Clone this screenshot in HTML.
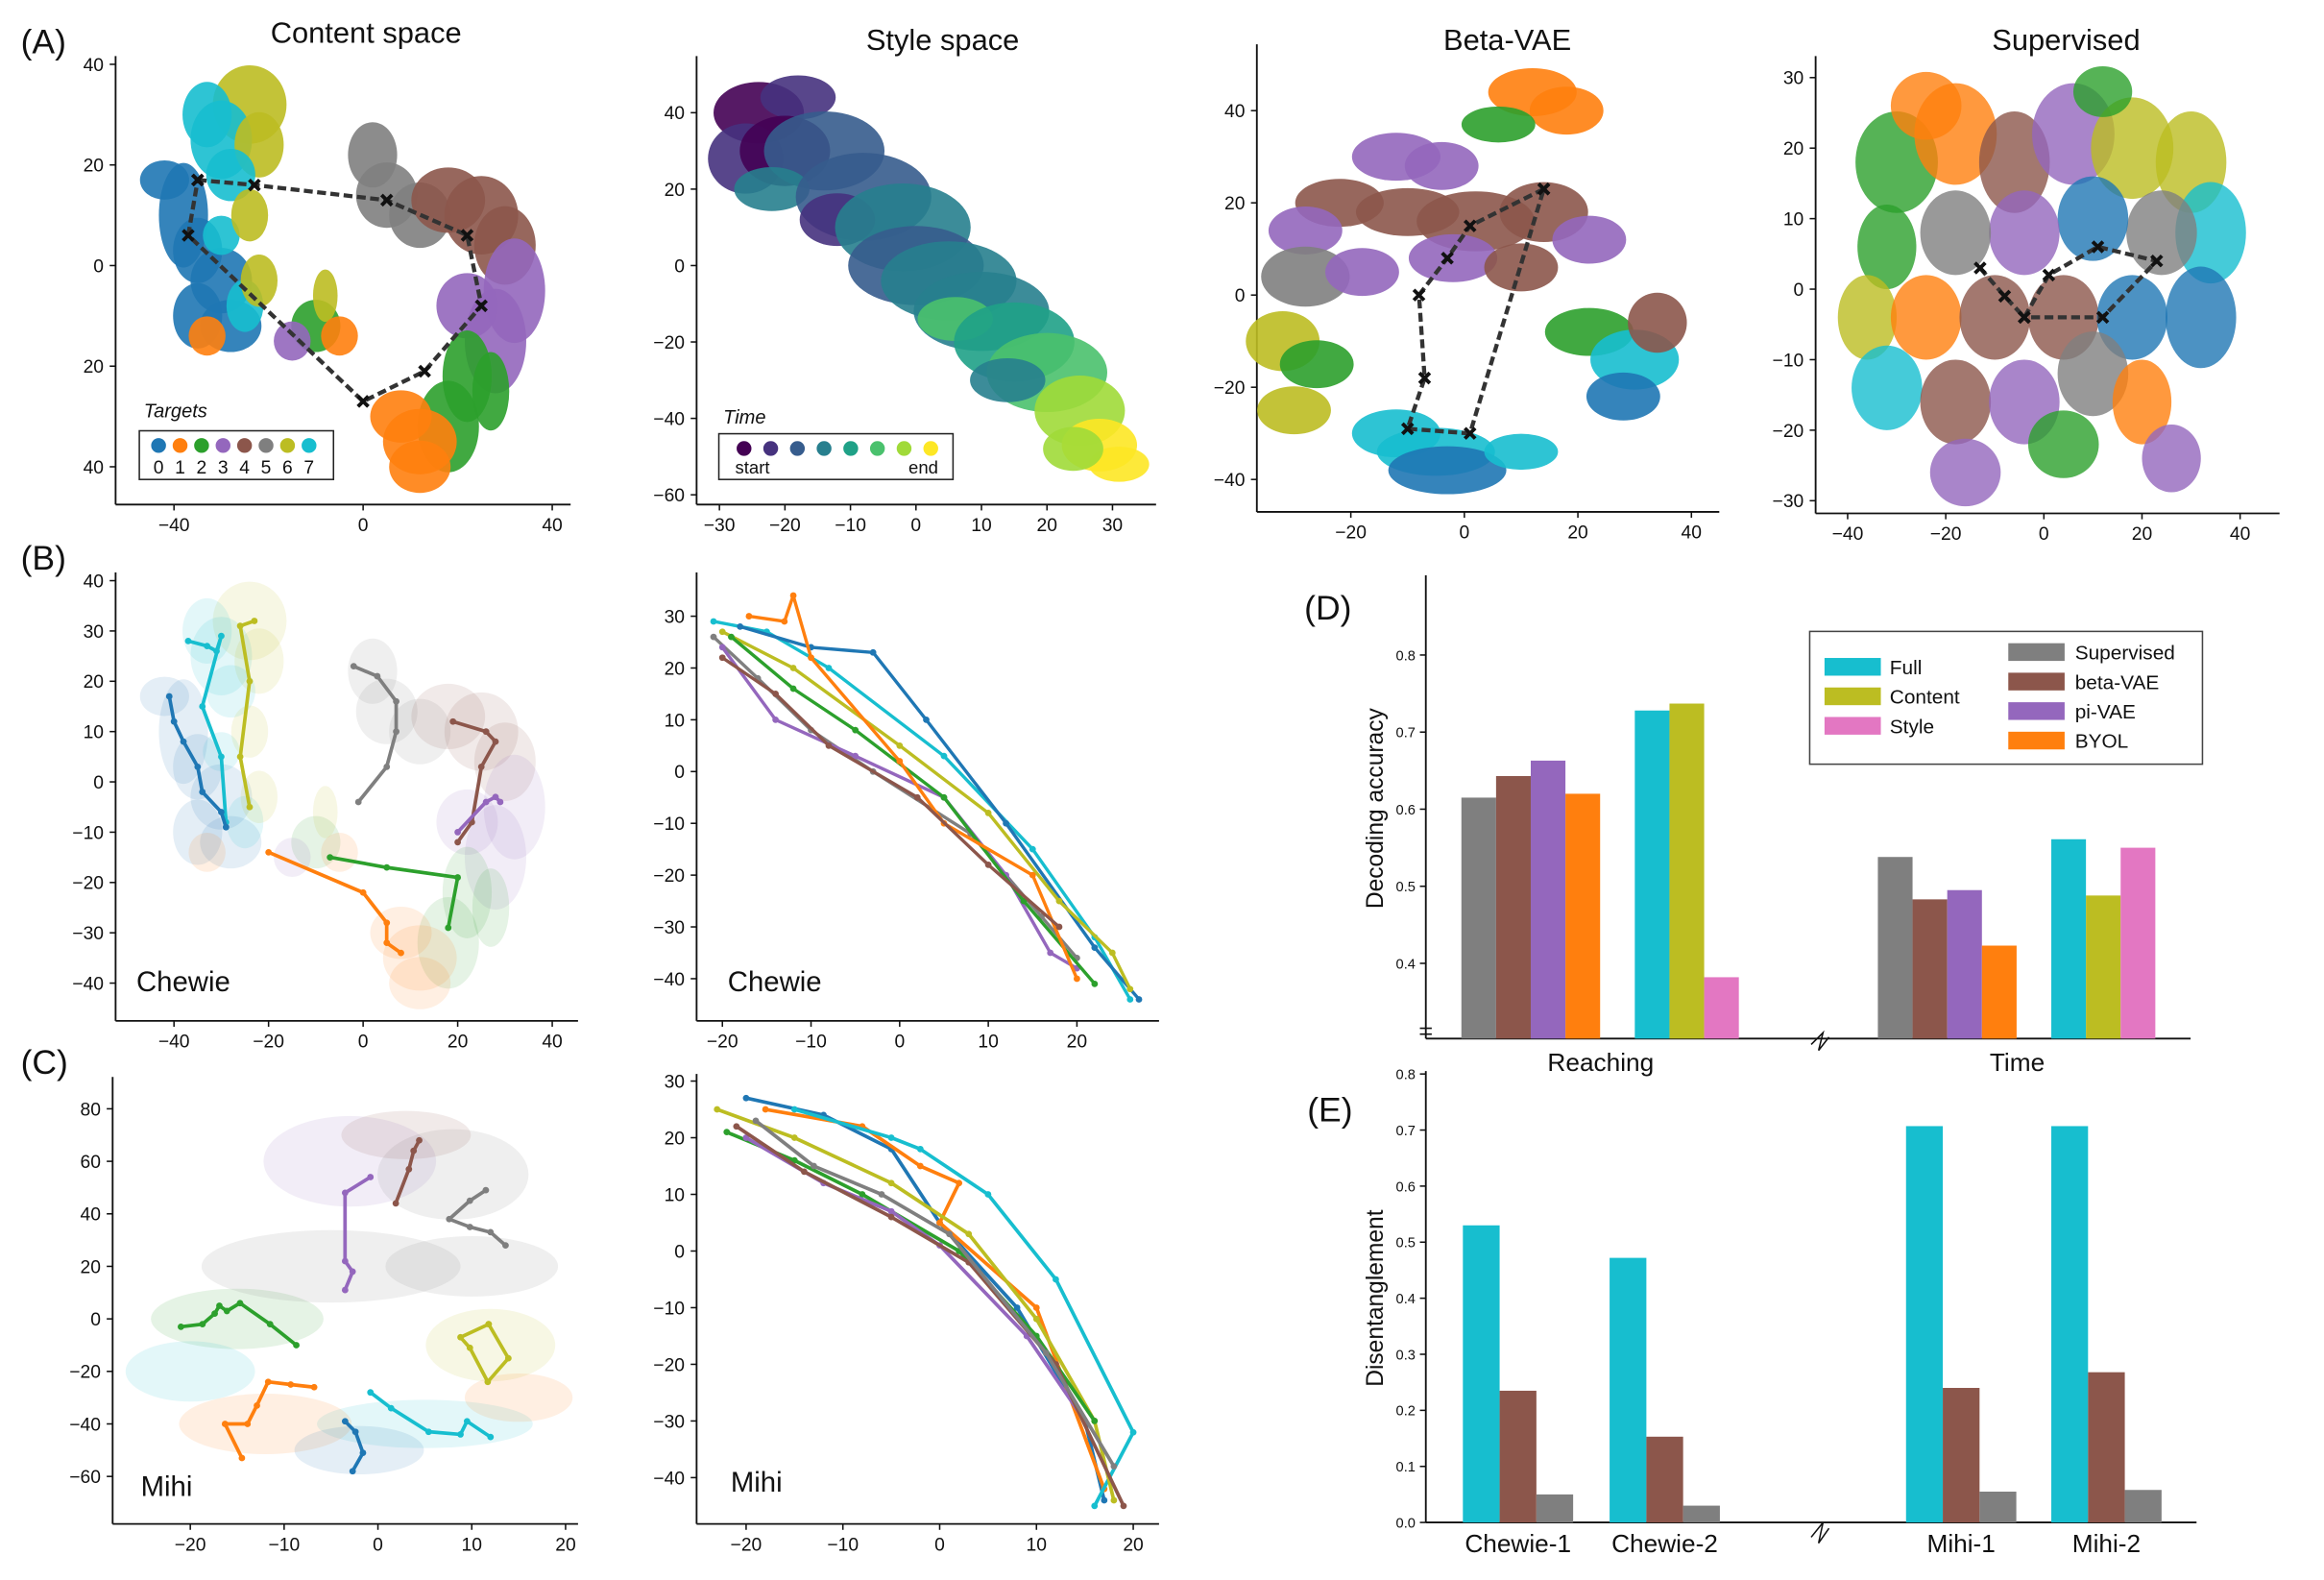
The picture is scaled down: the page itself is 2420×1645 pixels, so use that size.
<!DOCTYPE html>
<html><head><meta charset="utf-8">
<style>
html,body{margin:0;padding:0;background:#fff;}
svg{display:block;font-family:"Liberation Sans","DejaVu Sans",sans-serif;}
</style></head>
<body>
<svg id="fig" width="2420" height="1645" viewBox="0 0 1568 1071" preserveAspectRatio="none" xmlns="http://www.w3.org/2000/svg"></svg>
<script>
// ---------- DATA ----------
const targetColors = ["#1f77b4","#ff7f0e","#2ca02c","#9467bd","#8c564b","#7f7f7f","#bcbd22","#17becf"];
const timeColors = ["#440154","#46327e","#365c8d","#277f8e","#1fa187","#4ac16d","#a0da39","#fde725"];
const targetLabels = ["0","1","2","3","4","5","6","7"];

// clusters: [x, y, rx, ry, colorIndex]
const contentClusters = [
 [-24,32,6,6,6],[-33,30,4,5,7],[-30,25,5,6,7],[-22,24,4,5,6],[-28,18,4,4,7],
 [-42,17,4,3,0],[-38,10,4,8,0],[-35,3,4,5,0],[-30,-3,5,5,0],[-35,-10,4,5,0],[-28,-12,5,4,0],[-33,-14,3,3,1],[-25,-8,3,4,7],[-22,-3,3,4,6],[-30,6,3,3,7],[-24,10,3,4,6],
 [2,22,4,5,5],[5,14,5,5,5],[12,10,5,5,5],[18,13,6,5,4],[25,10,6,6,4],[30,4,5,6,4],[32,-5,5,8,3],[28,-15,5,8,3],[22,-8,5,5,3],
 [22,-22,4,7,2],[27,-25,3,6,2],[18,-32,5,7,2],[12,-35,6,5,1],[8,-30,5,4,1],[12,-40,5,4,1],
 [-10,-12,4,4,2],[-15,-15,3,3,3],[-8,-6,2,4,6],[-5,-14,3,3,1]];
const contentTraj = [[-35,17],[-23,16],[5,13],[22,6],[25,-8],[13,-21],[0,-27],[-37,6],[-35,17]];

const styleClusters = [[-24,40,6,7,0],[-18,44,5,5,1],[-26,28,5,8,1],[-20,30,6,8,0],[-14,30,8,9,2],[-22,20,5,5,3],[-8,18,9,10,2],[-12,12,5,6,1],[-2,10,9,10,3],[0,0,9,9,2],[5,-4,9,9,3],[10,-12,9,9,3],[6,-14,5,5,5],[15,-20,8,9,4],[20,-28,8,9,5],[14,-30,5,5,3],[25,-38,6,8,6],[28,-47,5,6,7],[31,-52,4,4,7],[24,-48,4,5,6]];

const betaClusters = [[12,44,6,4,1],[18,40,5,4,1],[6,37,5,3,2],[-12,30,6,4,3],[-4,28,5,4,3],[-22,20,6,4,4],[-10,18,7,4,4],[2,16,8,5,4],[14,18,6,5,4],[22,12,5,4,3],[-28,14,5,4,3],[-2,8,6,4,3],[10,6,5,4,4],[-28,4,6,5,5],[-18,5,5,4,3],[-32,-10,5,5,6],[-26,-15,5,4,2],[-30,-25,5,4,6],[-12,-30,6,4,7],[-5,-34,8,4,7],[-3,-38,8,4,0],[10,-34,5,3,7],[22,-8,6,4,2],[30,-14,6,5,7],[28,-22,5,4,0],[34,-6,4,5,4]];
const betaTraj = [[14,23],[1,15],[-3,8],[-8,0],[-7,-18],[-10,-29],[1,-30],[14,23]];

const supClusters = [[-30,18,7,6,2],[-18,22,7,6,1],[-6,18,6,6,4],[6,22,7,6,3],[18,20,7,6,6],[30,18,6,6,6],[34,8,6,6,7],[24,8,6,5,5],[10,10,6,5,0],[-4,8,6,5,3],[-18,8,6,5,5],[-32,6,5,5,2],[-36,-4,5,5,6],[-24,-4,6,5,1],[-10,-4,6,5,4],[4,-4,6,5,4],[18,-4,6,5,0],[32,-4,6,6,0],[-32,-14,6,5,7],[-18,-16,6,5,4],[-4,-16,6,5,3],[10,-12,6,5,5],[20,-16,5,5,1],[-16,-26,6,4,3],[4,-22,6,4,2],[26,-24,5,4,3],[-24,26,6,4,1],[12,28,5,3,2]];
const supTraj = [[-13,3],[-8,-1],[-4,-4],[1,2],[11,6],[23,4],[12,-4],[-4,-4]];

const chewieContentBg = contentClusters;
const chewieContentTraj = [
 [7,[[-37,28],[-33,27],[-31,26],[-30,29],[-34,15],[-30,5],[-29,-8]]],
 [6,[[-23,32],[-26,31],[-24,20],[-26,5],[-24,-5]]],
 [0,[[-41,17],[-40,12],[-38,8],[-35,3],[-34,-2],[-30,-6],[-29,-9]]],
 [5,[[-2,23],[3,21],[7,16],[7,10],[5,3],[-1,-4]]],
 [4,[[19,12],[26,10],[28,8],[25,3],[23,-8],[20,-12]]],
 [3,[[20,-10],[26,-4],[28,-3],[29,-4]]],
 [1,[[-20,-14],[0,-22],[5,-28],[5,-32],[8,-34]]],
 [2,[[-7,-15],[5,-17],[20,-19],[18,-29]]]
];
const chewieStyleTraj = [
 [7,[[-21,29],[-15,27],[-8,20],[5,3],[15,-15],[22,-32],[26,-44]]],
 [0,[[-18,28],[-10,24],[-3,23],[3,10],[12,-10],[22,-34],[27,-44]]],
 [6,[[-20,27],[-12,20],[0,5],[10,-8],[18,-25],[24,-35],[26,-42]]],
 [5,[[-21,26],[-16,18],[-10,8],[-3,0],[8,-12],[16,-28],[20,-36]]],
 [3,[[-20,24],[-14,10],[-5,3],[5,-5],[12,-20],[17,-35],[20,-38]]],
 [2,[[-19,26],[-12,16],[-5,8],[5,-5],[14,-25],[22,-41]]],
 [1,[[-17,30],[-13,29],[-12,34],[-10,22],[0,2],[5,-10],[15,-20],[20,-40]]],
 [4,[[-20,22],[-14,15],[-8,5],[2,-5],[10,-18],[18,-30]]]
];
const mihiContentTraj = [
 [3,[[-0.8,54],[-3.5,48],[-3.5,22],[-2.7,18],[-3.5,11]]],
 [4,[[4.4,68],[3.8,64],[3.3,57],[1.9,44]]],
 [5,[[11.5,49],[9.8,45],[7.6,38],[9.8,35],[12,33],[13.6,28]]],
 [6,[[11.8,-2],[8.8,-7],[9.8,-11],[11.7,-24],[13.9,-15],[11.8,-2]]],
 [7,[[-0.8,-28],[1.4,-34],[5.4,-43],[8.8,-44],[9.5,-39],[12,-45]]],
 [0,[[-3.5,-39],[-2.4,-43],[-1.6,-51],[-2.7,-58]]],
 [1,[[-6.8,-26],[-9.3,-25],[-11.7,-24],[-12.9,-33],[-13.9,-40],[-16.3,-40],[-14.5,-53]]],
 [2,[[-21,-3],[-18.7,-2],[-17.4,2],[-16.9,5],[-16.1,3],[-14.7,6],[-11.5,-2],[-8.7,-10]]]
];
const mihiContentBg = [[-3,60,8,15,3],[8,55,7,15,5],[3,70,6,8,4],[-15,0,8,10,2],[12,-10,6,12,6],[5,-40,10,8,7],[-12,-40,8,10,1],[-2,-50,6,8,0],[-5,20,12,12,5],[10,20,8,10,5],[-20,-20,6,10,7],[15,-30,5,8,1]];
const mihiStyleTraj = [
 [0,[[-20,27],[-12,24],[-5,18],[0,5],[8,-10],[15,-30],[17,-44]]],
 [1,[[-18,25],[-8,22],[-2,15],[2,12],[0,5],[10,-10],[17,-42]]],
 [7,[[-15,25],[-5,20],[-2,18],[5,10],[12,-5],[20,-32],[16,-45]]],
 [6,[[-23,25],[-15,20],[-5,12],[3,3],[10,-12],[16,-30],[18,-44]]],
 [2,[[-22,21],[-15,16],[-8,10],[2,0],[10,-15],[16,-30]]],
 [3,[[-20,20],[-12,12],[-5,7],[0,1],[9,-15],[15,-30]]],
 [4,[[-21,22],[-14,14],[-5,6],[3,-2],[12,-20],[19,-45]]],
 [5,[[-19,23],[-13,15],[-6,10],[1,3],[11,-18],[18,-38]]]
];

// bar charts
const methodNames = ["Supervised","beta-VAE","pi-VAE","BYOL"];
const methodColors = ["#7f7f7f","#8c564b","#9467bd","#ff7f0e"];
const oursNames = ["Full","Content","Style"];
const oursColors = ["#17becf","#bcbd22","#e377c2"];
const decodingGroups = ["Reaching","Time"];
const reachingMethods = [0.615,0.643,0.663,0.620];
const reachingOurs = [0.728,0.737,0.382];
const timeMethods = [0.538,0.483,0.495,0.423];
const timeOurs = [0.561,0.488,0.550];
const decodingTicks = [0.4,0.5,0.6,0.7,0.8];
const disGroups = ["Chewie-1","Chewie-2","Mihi-1","Mihi-2"];
const disFull = [0.530,0.472,0.707,0.707];
const disBeta = [0.235,0.153,0.240,0.268];
const disSup = [0.050,0.030,0.055,0.058];
const disTicks = [0.0,0.1,0.2,0.3,0.4,0.5,0.6,0.7,0.8];

// ---------- HELPERS ----------
const svg = document.getElementById('fig');
const NS = "http://www.w3.org/2000/svg";
function el(tag, attrs, parent){
  const e = document.createElementNS(NS, tag);
  for (const k in attrs) e.setAttribute(k, attrs[k]);
  (parent||svg).appendChild(e);
  return e;
}
function txt(s, x, y, size, anchor, parent, extra){
  const t = el('text', Object.assign({x:x, y:y, 'font-size':size, 'text-anchor':anchor||'middle', fill:'#111'}, extra||{}), parent);
  t.textContent = s;
  return t;
}
function makePanel(name, c){
  const g = el('g', {});
  
  
  c.sx = v => c.x0 + v*c.kx;
  c.sy = v => c.y0 - v*c.ky;
  c.g = g;
  el('line',{x1:c.left,y1:c.top,x2:c.left,y2:c.bottom,stroke:'#111','stroke-width':1.2},g);
  el('line',{x1:c.left,y1:c.bottom,x2:c.right,y2:c.bottom,stroke:'#111','stroke-width':1.2},g);
  c.xticks.forEach(v=>{
    const x=c.sx(v);
    el('line',{x1:x,y1:c.bottom,x2:x,y2:c.bottom+4,stroke:'#111'},g);
    const t = txt((v<0?'\u2212'+(-v):''+v), x, c.bottom+18, 12.5,'middle',g);
    
    
  });
  c.yticks.forEach((v,i)=>{
    const y=c.sy(v);
    el('line',{x1:c.left-4,y1:y,x2:c.left,y2:y,stroke:'#111'},g);
    const lab = c.ylabels ? c.ylabels[i] : (v<0?'\u2212'+(-v):''+v);
    const t = txt(lab, c.left-8, y+4.5, 12.5,'end',g);
    
    
  });
  return c;
}
function blobs(c, clusters, colors, op, scale){
  const s = scale || 1;
  clusters.forEach(cl=>{
    const e = el('ellipse',{cx:c.sx(cl[0]),cy:c.sy(cl[1]),rx:cl[2]*c.kx*s,ry:cl[3]*c.ky*s,fill:colors[cl[4]],opacity:op},c.g);
    
    
  });
}
function traj(c, pts, color, w, dash, marker){
  const d = pts.map((p,i)=>(i?'L':'M')+c.sx(p[0]).toFixed(1)+' '+c.sy(p[1]).toFixed(1)).join(' ');
  const p = el('path',{d:d,fill:'none',stroke:color,'stroke-width':w,'stroke-dasharray':dash||'none','stroke-linejoin':'round'},c.g);
  
  
  pts.forEach(q=>{
    if(marker==='x'){
      const x=c.sx(q[0]), y=c.sy(q[1]);
      el('path',{d:`M${x-3.5} ${y-3.5}L${x+3.5} ${y+3.5}M${x+3.5} ${y-3.5}L${x-3.5} ${y+3.5}`,stroke:'#111','stroke-width':2.5},c.g);
    } else {
      el('circle',{cx:c.sx(q[0]),cy:c.sy(q[1]),r:2.2,fill:color},c.g);
    }
  });
}

// ---------- PANEL LETTERS / TITLES ----------
[["(A)",14,36],["(B)",14,386],["(C)",14,728],["(D)",880,420],["(E)",882,760]].forEach(a=>{
  const t = txt(a[0],a[1],a[2],23,'start');
  
  
});
[["Content space",247,29],["Style space",636,34],["Beta-VAE",1017,34],["Supervised",1394,34]].forEach(a=>{
  const t = txt(a[0],a[1],a[2],20,'middle');
  
  
});

// ---------- A1 ----------
const a1 = makePanel('content-space-plot',{left:78,top:38,right:385,bottom:342,x0:245,kx:3.19,y0:180,ky:3.41,xticks:[-40,0,40],yticks:[40,20,0,-20,-40],ylabels:["40","20","0","20","40"]});
blobs(a1, contentClusters, targetColors, 0.9, 1.3);
traj(a1, contentTraj, '#333', 2.8, '6 3', 'x');
{
  const lg = el('g',{},a1.g);
  
  
  txt('Targets',97,283,13,'start',lg,{'font-style':'italic'});
  el('rect',{x:94,y:292,width:131,height:33,fill:'#fff',stroke:'#222'},lg);
  targetColors.forEach((col,i)=>{
    el('circle',{cx:107+i*14.5,cy:302,r:5,fill:col},lg);
    txt(targetLabels[i],107+i*14.5,321,12.5,'middle',lg);
  });
}

// ---------- A2 ----------
const a2 = makePanel('style-space-plot',{left:470,top:38,right:780,bottom:342,x0:618,kx:4.42,y0:180,ky:2.59,xticks:[-30,-20,-10,0,10,20,30],yticks:[40,20,0,-20,-40,-60]});
blobs(a2, styleClusters, timeColors, 0.9, 1.15);
{
  const lg = el('g',{},a2.g);
  
  
  txt('Time',488,287,13,'start',lg,{'font-style':'italic'});
  el('rect',{x:485,y:294,width:158,height:31,fill:'#fff',stroke:'#222'},lg);
  timeColors.forEach((col,i)=>el('circle',{cx:502+i*18,cy:304,r:5,fill:col},lg));
  txt('start',496,321,12,'start',lg);
  txt('end',633,321,12,'end',lg);
}

// ---------- A3 ----------
const a3 = makePanel('beta-vae-plot',{left:848,top:30,right:1160,bottom:347,x0:988,kx:3.83,y0:200,ky:3.125,xticks:[-20,0,20,40],yticks:[40,20,0,-20,-40]});
blobs(a3, betaClusters, targetColors, 0.9, 1.3);
traj(a3, betaTraj, '#333', 2.8, '6 3', 'x');

// ---------- A4 ----------
const a4 = makePanel('supervised-plot',{left:1225,top:38,right:1538,bottom:348,x0:1379,kx:3.31,y0:196,ky:4.78,xticks:[-40,-20,0,20,40],yticks:[30,20,10,0,-10,-20,-30]});
blobs(a4, supClusters, targetColors, 0.8, 1.2);
traj(a4, supTraj, '#333', 2.8, '6 3', 'x');

// ---------- B1 ----------
const b1 = makePanel('chewie-content-plot',{left:78,top:388,right:390,bottom:692,x0:245,kx:3.19,y0:530,ky:3.41,xticks:[-40,-20,0,20,40],yticks:[40,30,20,10,0,-10,-20,-30,-40]});
blobs(b1, chewieContentBg, targetColors, 0.12, 1.3);
chewieContentTraj.forEach(t=>traj(b1,t[1],targetColors[t[0]],2.4));
txt('Chewie',92,672,19,'start',b1.g);

// ---------- B2 ----------
const b2 = makePanel('chewie-style-plot',{left:470,top:388,right:782,bottom:692,x0:607,kx:5.98,y0:523,ky:3.51,xticks:[-20,-10,0,10,20],yticks:[30,20,10,0,-10,-20,-30,-40]});
chewieStyleTraj.forEach(t=>traj(b2,t[1],targetColors[t[0]],2.2));
txt('Chewie',491,672,19,'start',b2.g);

// ---------- C1 ----------
const c1 = makePanel('mihi-content-plot',{left:76,top:730,right:390,bottom:1033,x0:255,kx:6.33,y0:894,ky:1.78,xticks:[-20,-10,0,10,20],yticks:[80,60,40,20,0,-20,-40,-60]});
blobs(c1, mihiContentBg, targetColors, 0.12, 1.15);
mihiContentTraj.forEach(t=>traj(c1,t[1],targetColors[t[0]],2.4));
txt('Mihi',95,1014,19,'start',c1.g);

// ---------- C2 ----------
const c2 = makePanel('mihi-style-plot',{left:470,top:728,right:782,bottom:1033,x0:634,kx:6.53,y0:848,ky:3.84,xticks:[-20,-10,0,10,20],yticks:[30,20,10,0,-10,-20,-30,-40]});
mihiStyleTraj.forEach(t=>traj(c2,t[1],targetColors[t[0]],2.4));
txt('Mihi',493,1011,19,'start',c2.g);

// ---------- D ----------
{
  const g = el('g',{});
  
  
  const sy = v => 444 + (0.8 - v)*522.5;
  const base = 704, bw = 23.4;
  el('line',{x1:962,y1:390,x2:962,y2:base,stroke:'#111','stroke-width':1.2},g);
  el('line',{x1:962,y1:base,x2:1478,y2:base,stroke:'#111','stroke-width':1.2},g);
  decodingTicks.forEach(v=>{
    el('line',{x1:958,y1:sy(v),x2:962,y2:sy(v),stroke:'#111'},g);
    txt(v.toFixed(1),955,sy(v)+3.5,9.5,'end',g);
  });
  const groupsM = [reachingMethods,timeMethods], groupsO=[reachingOurs,timeOurs];
  const startX = [986,1267];
  groupsM.forEach((vals,gi)=>{
    vals.forEach((v,i)=>{
      const r = el('rect',{x:startX[gi]+i*bw,y:sy(v),width:bw,height:base-sy(v),fill:methodColors[i]},g);
      
      
    });
    groupsO[gi].forEach((v,i)=>{
      const r = el('rect',{x:startX[gi]+4*bw+bw+i*bw,y:sy(v),width:bw,height:base-sy(v),fill:oursColors[i]},g);
      
      
    });
    txt(decodingGroups[gi],[1080,1361][gi],726,17,'middle',g);
  });
  el('path',{d:'M1222 708 L1230 700 L1227 712 L1234 703',fill:'none',stroke:'#111','stroke-width':1},g);
  el('path',{d:'M958 697 L966 697 M958 701 L966 701',stroke:'#111','stroke-width':1},g);
  txt('Decoding accuracy',0,0,16,'middle',g,{transform:'translate(933,548) rotate(-90)'});
  const lg = el('g',{},g);
  
  
  el('rect',{x:1221,y:428,width:265,height:90,fill:'#fff',stroke:'#444'},lg);
  oursNames.forEach((n,i)=>{
    el('rect',{x:1231,y:446+i*20,width:38,height:12,fill:oursColors[i]},lg);
    txt(n,1275,457+i*20,13.5,'start',lg);
  });
  methodNames.forEach((n,i)=>{
    el('rect',{x:1355,y:436+i*20,width:38,height:12,fill:methodColors[i]},lg);
    txt(n,1400,447+i*20,13.5,'start',lg);
  });
}

// ---------- E ----------
{
  const g = el('g',{});
  
  
  const sy = v => 1032 - v*380;
  const base = 1032, bw = 24.8;
  el('line',{x1:962,y1:726,x2:962,y2:base,stroke:'#111','stroke-width':1.2},g);
  el('line',{x1:962,y1:base,x2:1482,y2:base,stroke:'#111','stroke-width':1.2},g);
  disTicks.forEach(v=>{
    el('line',{x1:958,y1:sy(v),x2:962,y2:sy(v),stroke:'#111'},g);
    txt(v.toFixed(1),955,sy(v)+3.5,9.5,'end',g);
  });
  const gx = [987,1086,1286,1384];
  disGroups.forEach((name,i)=>{
    [[disFull[i],'#17becf','bar-full'],[disBeta[i],'#8c564b','bar-beta-vae'],[disSup[i],'#7f7f7f','bar-supervised']].forEach((b,j)=>{
      const r = el('rect',{x:gx[i]+j*bw,y:sy(b[0]),width:bw,height:base-sy(b[0]),fill:b[1]},g);
      
      
    });
    txt(name,gx[i]+bw*1.5,1052,17,'middle',g);
  });
  el('path',{d:'M1222 1042 L1230 1032 L1227 1046 L1234 1036',fill:'none',stroke:'#111','stroke-width':1},g);
  txt('Disentanglement',0,0,16,'middle',g,{transform:'translate(933,880) rotate(-90)'});
}
</script>
</body></html>
